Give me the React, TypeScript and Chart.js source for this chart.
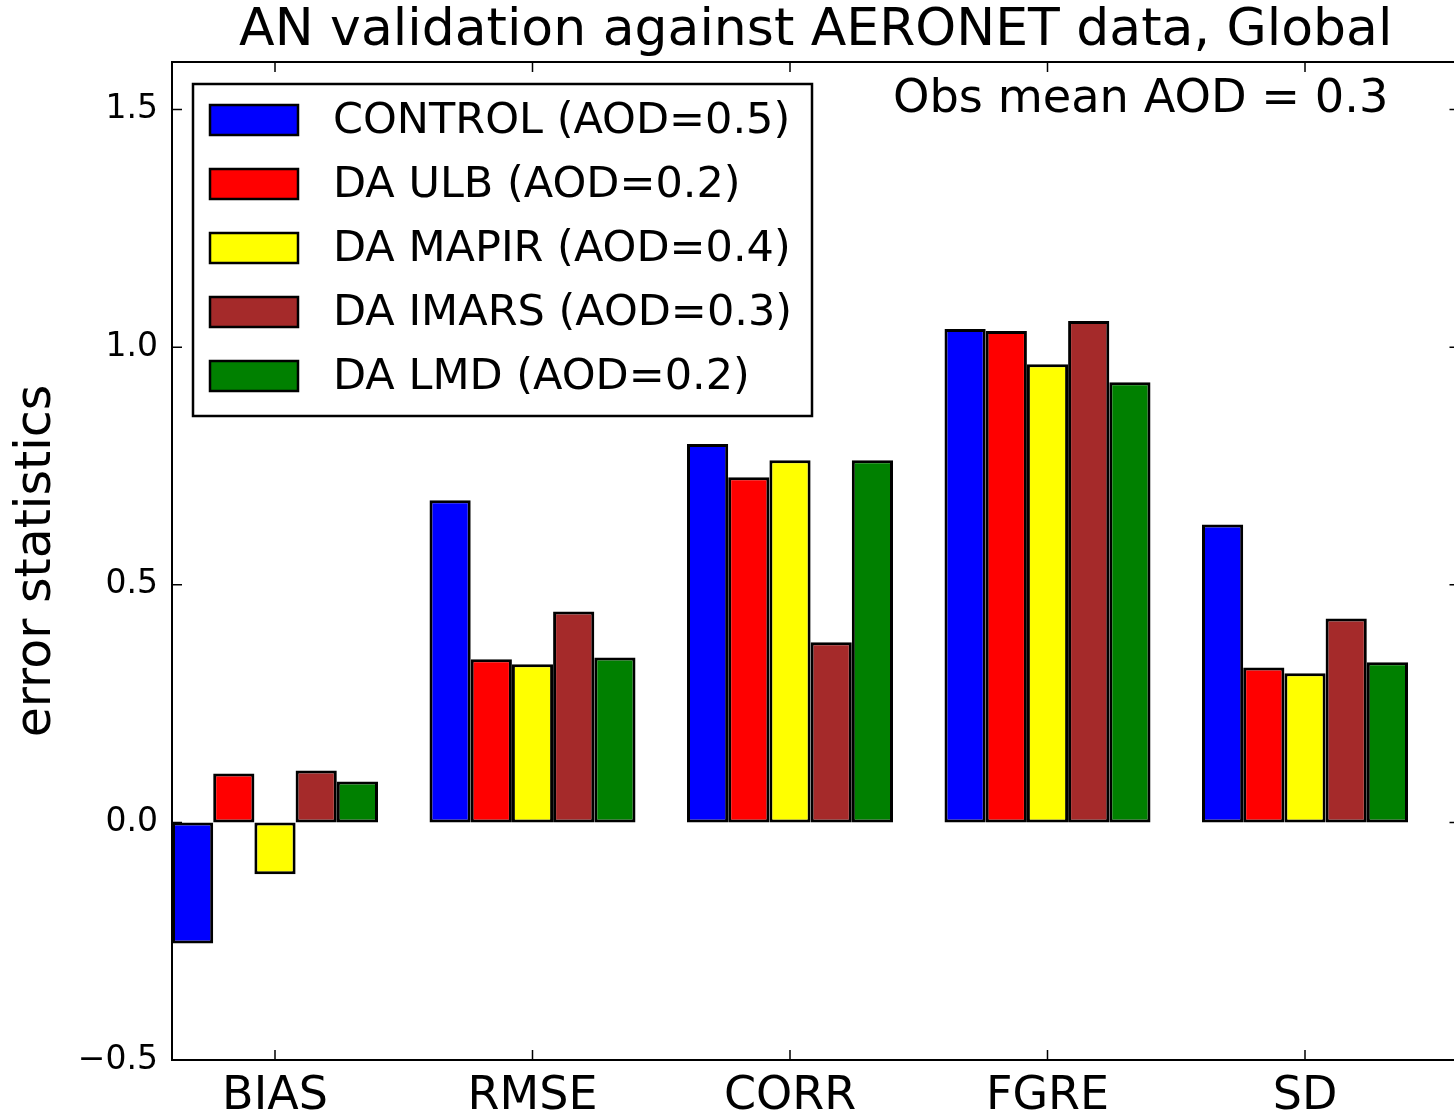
import React, { useEffect, useRef } from "react";
import { Chart, registerables } from "chart.js";

Chart.register(...registerables);

const categories = ["BIAS", "RMSE", "CORR", "FGRE", "SD"];
const seriesLabels = [
  "CONTROL (AOD=0.5)",
  "DA ULB (AOD=0.2)",
  "DA MAPIR (AOD=0.4)",
  "DA IMARS (AOD=0.3)",
  "DA LMD (AOD=0.2)",
];
const seriesColors = ["#0000ff", "#ff0000", "#ffff00", "#a52a2a", "#008000"];
const controlValues = [-0.255, 0.678, 0.796, 1.038, 0.627];
const ulbValues = [0.103, 0.343, 0.726, 1.034, 0.326];
const mapirValues = [-0.109, 0.333, 0.762, 0.964, 0.314];
const imarsValues = [0.109, 0.444, 0.379, 1.055, 0.429];
const lmdValues = [0.086, 0.347, 0.762, 0.926, 0.337];
const yTickValues = [-0.5, 0.0, 0.5, 1.0, 1.5];
const titleText = "AN validation against AERONET data, Global";
const noteText = "Obs mean AOD = 0.3";
const yAxisTitle = "error statistics";

const FONT = "'DejaVu Sans', sans-serif";

const overlayPlugin = {
  id: "overlay",
  afterDraw(chart: any) {
    const ctx = chart.ctx;
    const a = chart.chartArea;
    const xs = chart.scales.x;
    const ys = chart.scales.y;
    ctx.save();
    // spines
    ctx.strokeStyle = "#000";
    ctx.lineWidth = 2;
    ctx.strokeRect(a.left, a.top, a.right - a.left, a.bottom - a.top);
    // inward ticks
    ctx.lineWidth = 1.5;
    const tl = 10;
    ctx.beginPath();
    yTickValues.forEach((v) => {
      const py = ys.getPixelForValue(v);
      ctx.moveTo(a.left, py);
      ctx.lineTo(a.left + tl, py);
      ctx.moveTo(a.right, py);
      ctx.lineTo(a.right - tl, py);
    });
    xs.ticks.forEach((t: any) => {
      const px = xs.getPixelForValue(t.value);
      ctx.moveTo(px, a.bottom);
      ctx.lineTo(px, a.bottom - tl);
      ctx.moveTo(px, a.top);
      ctx.lineTo(px, a.top + tl);
    });
    ctx.stroke();

    // title
    ctx.fillStyle = "#000";
    ctx.font = `52px ${FONT}`;
    ctx.textAlign = "center";
    ctx.textBaseline = "alphabetic";
    ctx.fillText(titleText, (a.left + a.right) / 2, a.top - 17);

    // note
    ctx.font = `46.3px ${FONT}`;
    ctx.textAlign = "left";
    ctx.fillText(noteText, a.left + 721, a.top + 50);

    // legend
    const lx = a.left + 21;
    const ly = a.top + 22;
    const lw = 619;
    const lh = 332;
    ctx.fillStyle = "#fff";
    ctx.fillRect(lx, ly, lw, lh);
    ctx.lineWidth = 2.5;
    ctx.strokeStyle = "#000";
    ctx.strokeRect(lx, ly, lw, lh);
    ctx.font = `43px ${FONT}`;
    ctx.textBaseline = "middle";
    chart.data.datasets.forEach((ds: any, i: number) => {
      const cy = ly + 36 + i * 64;
      ctx.fillStyle = ds.backgroundColor;
      ctx.fillRect(lx + 17, cy - 15, 88, 30);
      ctx.lineWidth = 2.5;
      ctx.strokeRect(lx + 17, cy - 15, 88, 30);
      ctx.fillStyle = "#000";
      ctx.fillText(ds.label, lx + 140, cy + 2);
    });
    ctx.restore();
  },
};

export default function App() {
  const ref = useRef<HTMLCanvasElement>(null);
  useEffect(() => {
    if (!ref.current) return;
    const allValues = [controlValues, ulbValues, mapirValues, imarsValues, lmdValues];
    const chart = new Chart(ref.current, {
      type: "bar",
      data: {
        datasets: allValues.map((vals, k) => ({
          label: seriesLabels[k],
          data: vals.map((y, i) => ({ x: i + 0.4, y })),
          backgroundColor: seriesColors[k],
          borderColor: "#000",
          borderWidth: 3,
          borderSkipped: false,
          categoryPercentage: 0.8,
          barPercentage: 1.0,
        })),
      },
      options: {
        responsive: false,
        animation: false,
        devicePixelRatio: 1,
        layout: { padding: { top: 62, left: 0, right: 10.5, bottom: 0 } },
        plugins: {
          legend: { display: false },
          tooltip: { enabled: false },
          title: { display: false },
        },
        scales: {
          x: {
            type: "linear",
            min: 0,
            max: 5,
            offset: false,
            grid: { display: false, drawTicks: false },
            border: { display: false },
            afterBuildTicks: (scale: any) => {
              scale.ticks = categories.map((_, i) => ({ value: i + 0.4 }));
            },
            afterFit: (scale: any) => {
              scale.height = 50;
            },
            ticks: {
              autoSkip: false,
              maxRotation: 0,
              padding: 9,
              color: "#000",
              font: { family: FONT, size: 46 },
              callback: (_v: any, idx: number) => categories[idx],
            },
          },
          y: {
            type: "linear",
            min: -0.5,
            max: 1.6,
            grid: { display: false, drawTicks: false },
            border: { display: false },
            afterBuildTicks: (scale: any) => {
              scale.ticks = yTickValues.map((v) => ({ value: v }));
            },
            afterFit: (scale: any) => {
              scale.width = 172;
            },
            title: {
              display: true,
              text: yAxisTitle,
              color: "#000",
              font: { family: FONT, size: 49 },
              padding: { top: 8, bottom: 0 },
            },
            ticks: {
              padding: 14,
              color: "#000",
              font: { family: FONT, size: 33 },
              callback: (v: any) =>
                (v < 0 ? "\u2212" : "") + Math.abs(Number(v)).toFixed(1),
            },
          },
        },
      },
      plugins: [overlayPlugin],
    } as any);
    return () => chart.destroy();
  }, []);

  return (
    <div
      style={{
        position: "fixed",
        left: 0,
        top: 0,
        width: 1454,
        height: 1110,
        overflow: "hidden",
        background: "#fff",
      }}
    >
      <canvas ref={ref} width={1470} height={1110} style={{ width: 1470, height: 1110, display: "block" }} />
    </div>
  );
}
